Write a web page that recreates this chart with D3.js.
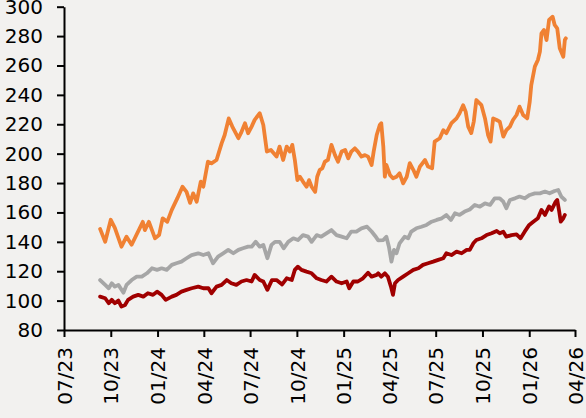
<!DOCTYPE html>
<html>
<head>
<meta charset="utf-8">
<script src="https://cdn.jsdelivr.net/npm/d3@7"></script>
<style>
  html, body { margin: 0; padding: 0; background: #f2f1ef; }
  svg { display: block; }
  .tick text { font-family: "DejaVu Sans", sans-serif; font-size: 20px; fill: #000; }
</style>
</head>
<body>
<svg id="chart" width="586" height="418"></svg>
<script>
// ---- data ----
const xTickLabels = ["07/23","10/23","01/24","04/24","07/24","10/24","01/25","04/25","07/25","10/25","01/26","04/26"];
const yTicks = [80,100,120,140,160,180,200,220,240,260,280,300];

const orangeDates = ["2023-09-10","2023-09-20","2023-10-01","2023-10-09","2023-10-22","2023-11-01","2023-11-11","2023-12-03","2023-12-07","2023-12-15","2023-12-27","2024-01-04","2024-01-11","2024-01-20","2024-01-29","2024-02-09","2024-02-19","2024-02-27","2024-03-05","2024-03-11","2024-03-18","2024-03-26","2024-03-31","2024-04-09","2024-04-16","2024-04-26","2024-05-06","2024-05-12","2024-05-20","2024-05-27","2024-06-08","2024-06-13","2024-06-21","2024-06-27","2024-07-04","2024-07-10","2024-07-20","2024-07-27","2024-08-03","2024-08-11","2024-08-22","2024-08-28","2024-09-04","2024-09-11","2024-09-17","2024-09-22","2024-09-27","2024-10-02","2024-10-07","2024-10-13","2024-10-20","2024-10-25","2024-10-30","2024-11-06","2024-11-10","2024-11-15","2024-11-20","2024-11-25","2024-12-01","2024-12-08","2024-12-15","2024-12-21","2024-12-28","2025-01-04","2025-01-10","2025-01-16","2025-01-23","2025-01-29","2025-02-05","2025-02-12","2025-02-18","2025-02-25","2025-03-01","2025-03-07","2025-03-13","2025-03-16","2025-03-20","2025-03-23","2025-03-26","2025-04-02","2025-04-08","2025-04-15","2025-04-21","2025-04-28","2025-05-05","2025-05-11","2025-05-18","2025-05-24","2025-05-31","2025-06-10","2025-06-16","2025-06-24","2025-06-29","2025-07-09","2025-07-16","2025-07-22","2025-08-01","2025-08-11","2025-08-17","2025-08-24","2025-08-29","2025-09-03","2025-09-09","2025-09-14","2025-09-19","2025-09-29","2025-10-06","2025-10-12","2025-10-17","2025-10-22","2025-10-29","2025-11-04","2025-11-11","2025-11-17","2025-11-24","2025-11-30","2025-12-07","2025-12-13","2025-12-20","2025-12-28","2026-01-02","2026-01-05","2026-01-12","2026-01-18","2026-01-22","2026-01-25","2026-01-30","2026-02-04","2026-02-09","2026-02-16","2026-02-20","2026-02-25","2026-03-02","2026-03-09","2026-03-12","2026-03-14"];
const orangeValues = [148.8,140,155,149.5,136.7,143.5,138,153.6,148,153.6,142.4,144.6,156,153.6,161.7,169.7,177.5,174,166.5,173,167.3,181,177.5,194.5,193.4,195.7,207,212.7,224,218.4,210.5,213.9,220.7,213.9,218.4,223,227.5,219.5,201.4,202.5,198,204.8,195.7,204.8,201.4,206,195.7,182,184.3,181,177.5,182,177.5,174,184.3,189,190,194.5,195.7,206,199,194.5,201.4,202.5,196.8,201.4,203.6,201.4,198,199,198,192.3,201.4,212.7,219.5,220.7,204.8,184.3,192.3,185.5,183.2,184.3,186.6,179.8,184.3,193.5,189,184.3,191.2,195.7,191.2,190,208.2,210.5,216,213.9,220.7,224,227.5,233,228.6,218.4,214,222,236.5,233,224,212.7,208.2,224,222.9,221.8,211.6,216,218.4,222.9,226.3,232,226.3,224,235.4,246.7,259.2,263.7,269.4,281.9,284.2,277.3,291,293.2,287.6,285.3,271.7,266,277.3,278.5];

const grayDates = ["2023-09-10","2023-09-20","2023-09-27","2023-10-03","2023-10-09","2023-10-16","2023-10-26","2023-11-01","2023-11-11","2023-11-21","2023-12-01","2023-12-11","2023-12-21","2023-12-31","2024-01-09","2024-01-19","2024-01-29","2024-02-07","2024-02-17","2024-02-27","2024-03-08","2024-03-21","2024-03-31","2024-04-10","2024-04-19","2024-04-29","2024-05-09","2024-05-19","2024-05-29","2024-06-08","2024-06-17","2024-06-27","2024-07-04","2024-07-12","2024-07-20","2024-07-27","2024-08-04","2024-08-12","2024-08-19","2024-08-28","2024-09-05","2024-09-14","2024-09-24","2024-10-03","2024-10-13","2024-10-23","2024-10-30","2024-11-09","2024-11-18","2024-11-28","2024-12-08","2024-12-18","2024-12-28","2025-01-07","2025-01-16","2025-01-26","2025-02-05","2025-02-16","2025-02-25","2025-03-04","2025-03-10","2025-03-20","2025-03-26","2025-03-31","2025-04-05","2025-04-10","2025-04-15","2025-04-21","2025-05-01","2025-05-08","2025-05-14","2025-05-24","2025-06-03","2025-06-13","2025-06-23","2025-07-03","2025-07-13","2025-07-22","2025-07-31","2025-08-08","2025-08-17","2025-08-27","2025-09-06","2025-09-16","2025-09-26","2025-10-06","2025-10-16","2025-10-25","2025-11-04","2025-11-11","2025-11-17","2025-11-24","2025-12-04","2025-12-13","2025-12-23","2026-01-02","2026-01-12","2026-01-22","2026-02-01","2026-02-10","2026-02-20","2026-02-27","2026-03-05","2026-03-12"];
const grayValues = [114,110.7,108.4,111.8,109.5,110.7,105.4,110.7,114,116.3,116.3,118.6,122,120.9,122,120.9,124.3,125.4,126.5,128.8,131,132.2,131,132.2,125.4,130,132.2,134.5,132.2,134.5,135.6,136.7,136.7,140,136.7,137.9,128.8,137.9,140,140,135.6,140,142.4,141.2,144.6,143.5,140,144.6,143.5,145.8,148,144.6,143.5,142.4,147,147,149.2,150.3,147,144,141,141.2,143.5,136.7,126.5,134.5,132.2,139,143.5,142.4,147,149.2,150.3,151.5,153.7,154.9,156,158.3,154.9,159.5,158.3,160.6,162,165.1,163.9,166.2,165.1,169.6,169.6,167.3,162.8,168.5,169.6,170.8,169.6,171.9,173,173,174.2,173,174.6,175.3,170.8,168.5];

const redDates = ["2023-09-10","2023-09-20","2023-09-27","2023-10-03","2023-10-09","2023-10-16","2023-10-22","2023-10-29","2023-11-04","2023-11-14","2023-11-24","2023-12-04","2023-12-13","2023-12-23","2023-12-31","2024-01-09","2024-01-17","2024-01-29","2024-02-07","2024-02-17","2024-02-27","2024-03-08","2024-03-21","2024-03-31","2024-04-10","2024-04-16","2024-04-26","2024-05-06","2024-05-16","2024-05-25","2024-06-04","2024-06-14","2024-06-24","2024-07-04","2024-07-10","2024-07-20","2024-07-27","2024-08-04","2024-08-13","2024-08-22","2024-09-02","2024-09-11","2024-09-21","2024-09-27","2024-10-03","2024-10-10","2024-10-20","2024-10-30","2024-11-09","2024-11-18","2024-11-28","2024-12-08","2024-12-18","2024-12-28","2025-01-07","2025-01-12","2025-01-20","2025-01-29","2025-02-08","2025-02-18","2025-02-25","2025-03-07","2025-03-10","2025-03-16","2025-03-23","2025-03-29","2025-04-04","2025-04-08","2025-04-12","2025-04-18","2025-04-28","2025-05-08","2025-05-18","2025-05-28","2025-06-06","2025-06-16","2025-06-26","2025-07-06","2025-07-16","2025-07-22","2025-08-01","2025-08-11","2025-08-21","2025-08-31","2025-09-06","2025-09-13","2025-09-19","2025-09-29","2025-10-09","2025-10-19","2025-10-29","2025-11-04","2025-11-11","2025-11-17","2025-11-27","2025-12-07","2025-12-15","2025-12-23","2026-01-01","2026-01-09","2026-01-18","2026-01-25","2026-02-01","2026-02-09","2026-02-14","2026-02-22","2026-02-25","2026-03-01","2026-03-04","2026-03-09","2026-03-12"];
const redValues = [102.7,101.6,98.2,100.5,98.2,100,95.9,97,100.5,102.7,103.9,102.7,105,103.9,106.1,103.9,100.5,102.7,103.9,106.1,107.3,108.4,109.5,108.4,108.4,105,109.5,110.7,114,111.8,110.7,113,114,113,117.5,114,113,107.3,114,114,111,115.2,114,120.9,123.1,120.9,119.7,118.6,115.2,114,113,116.3,113,111.8,113,108.4,113,113,115.2,119,116.3,117.5,118.6,116.3,118.6,116.3,109.5,103.9,111.8,114,116.3,118.6,120.9,122,124.3,125.4,126.5,127.7,128.8,132.2,131,133.3,132.2,134.5,134.5,139,141.2,142.4,144.6,145.8,147.4,145.8,146.9,143.5,144.6,145,142.4,146.9,151.5,153.7,156,161.7,158.3,164.1,161.7,167.3,168.5,160.5,153.7,156,158.3];

// ---- chart ----
const parse = d3.utcParse("%Y-%m-%d");
const svg = d3.select("#chart");
const margin = {left: 64, top: 6.7, right: 11, bottom: 88};
const W = 586, H = 418;
const x = d3.scaleUtc()
  .domain([parse("2023-07-01"), parse("2026-04-01")])
  .range([margin.left, W - margin.right]);
const y = d3.scaleLinear().domain([80, 300]).range([330, margin.top]);

const tickDates = d3.utcMonth.every(3).range(parse("2023-07-01"), d3.utcDay.offset(parse("2026-04-01"), 1));

const series = [
  {dates: grayDates, values: grayValues, color: "#a6a6a6"},
  {dates: redDates, values: redValues, color: "#a00000"},
  {dates: orangeDates, values: orangeValues, color: "#f08133"}
];

const line = d3.line().x(d => x(d[0])).y(d => y(d[1])).curve(d3.curveLinear);
series.forEach(s => {
  const pts = s.dates.map((d, i) => [parse(d), s.values[i]]);
  svg.append("path").datum(pts)
    .attr("fill", "none").attr("stroke", s.color)
    .attr("stroke-width", 3.8).attr("stroke-linejoin", "round").attr("stroke-linecap", "round")
    .attr("d", line);
});

const yAxis = svg.append("g").attr("transform", `translate(${margin.left},0)`)
  .call(d3.axisLeft(y).tickValues(yTicks).tickSize(7).tickPadding(14).tickSizeOuter(0));
const xAxis = svg.append("g").attr("transform", `translate(0,330)`)
  .call(d3.axisBottom(x).tickValues(tickDates).tickSize(7).tickSizeOuter(0)
    .tickFormat((d, i) => xTickLabels[i]));
xAxis.selectAll(".tick text")
  .attr("transform", "rotate(-90)")
  .attr("text-anchor", "end")
  .attr("x", -17).attr("y", 0).attr("dy", "0.36em");
[yAxis, xAxis].forEach(g => {
  g.select(".domain").attr("stroke", "#000").attr("stroke-width", 2);
  g.selectAll(".tick line").attr("stroke", "#000").attr("stroke-width", 2);
});
</script>
</body>
</html>
